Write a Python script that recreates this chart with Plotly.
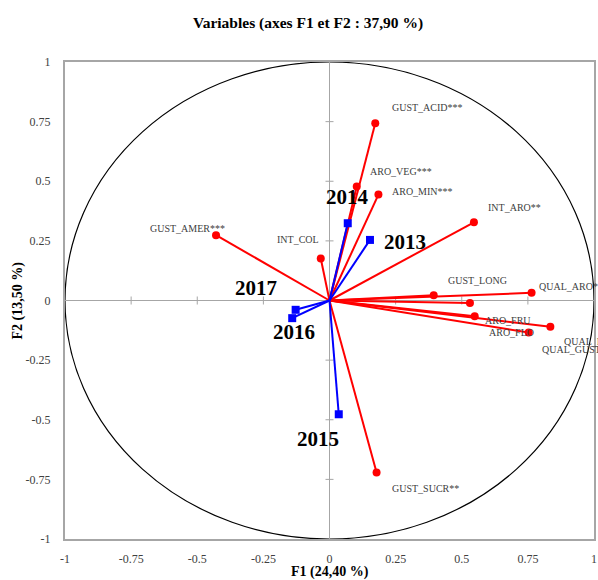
import plotly.graph_objects as go

# ---- data ----
var_names = ["GUST_ACID***", "ARO_VEG***", "ARO_MIN***", "INT_ARO**", "GUST_LONG",
             "QUAL_ARO*", "ARO_FRU", "ARO_FLO", "QUAL_FIN", "QUAL_GUST",
             "GUST_AMER***", "INT_COL", "GUST_SUCR**"]
var_f1 = [0.173, 0.103, 0.185, 0.546, 0.394, 0.764, 0.531, 0.549, 0.835, 0.753, -0.429, -0.033, 0.178]
var_f2 = [0.743, 0.478, 0.444, 0.328, 0.022, 0.032, -0.011, -0.066, -0.110, -0.134, 0.274, 0.176, -0.721]

years = ["2013", "2014", "2015", "2016", "2017"]
yr_f1 = [0.153, 0.069, 0.035, -0.141, -0.128]
yr_f2 = [0.254, 0.324, -0.477, -0.074, -0.039]

tick_vals = [-1, -0.75, -0.5, -0.25, 0, 0.25, 0.5, 0.75, 1]
tick_text = ["-1", "-0.75", "-0.5", "-0.25", "0", "0.25", "0.5", "0.75", "1"]

# ---- label placement (pixel offsets: anchor, xshift, yshift) ----
var_label_pos = [("left", 15, 16), ("left", 11, 15), ("left", 12, 3), ("left", 12, 15),
                 ("left", 12, 15), ("left", 5, 6), ("left", 13, -17), ("left", 12, -16),
                 ("left", 12, -15), ("left", 11, -17), ("right", 11, 7), ("right", 0, 19),
                 ("left", 13, -16)]
yr_label_pos = [("left", 12, -2), ("center", 0, 26), ("right", 2, -25),
                ("center", 2, -14), ("right", -17, 22)]

FONT = "Liberation Serif"
RED = "#ff0000"
BLUE = "#0000ff"
GREY = "#a6a6a6"

def vectors(xs, ys):
    lx, ly = [], []
    for a, b in zip(xs, ys):
        lx += [0, a, None]
        ly += [0, b, None]
    return lx, ly

fig = go.Figure()

rx, ry = vectors(var_f1, var_f2)
fig.add_trace(go.Scatter(x=rx, y=ry, mode="lines", line=dict(color=RED, width=2),
                         hoverinfo="skip", showlegend=False))
fig.add_trace(go.Scatter(x=var_f1, y=var_f2, mode="markers", text=var_names,
                         marker=dict(color=RED, size=8, symbol="circle"), showlegend=False))
bx, by = vectors(yr_f1, yr_f2)
fig.add_trace(go.Scatter(x=bx, y=by, mode="lines", line=dict(color=BLUE, width=2),
                         hoverinfo="skip", showlegend=False))
fig.add_trace(go.Scatter(x=yr_f1, y=yr_f2, mode="markers", text=years,
                         marker=dict(color=BLUE, size=8, symbol="square"), showlegend=False))

annotations = []
for name, a, b, (anc, dx, dy) in zip(var_names, var_f1, var_f2, var_label_pos):
    annotations.append(dict(x=a, y=b, xref="x", yref="y", text=name, showarrow=False,
                            xanchor=anc, yanchor="middle", xshift=dx, yshift=dy,
                            font=dict(family=FONT, size=10, color="#404040")))
for name, a, b, (anc, dx, dy) in zip(years, yr_f1, yr_f2, yr_label_pos):
    annotations.append(dict(x=a, y=b, xref="x", yref="y", text="<b>%s</b>" % name, showarrow=False,
                            xanchor=anc, yanchor="middle", xshift=dx, yshift=dy,
                            font=dict(family=FONT, size=21, color="#000000")))
# axis titles
annotations.append(dict(x=0.5, y=0, xref="paper", yref="paper", text="<b>F1 (24,40 %)</b>",
                        showarrow=False, xanchor="center", yanchor="middle", yshift=-33,
                        font=dict(family=FONT, size=14, color="#000000")))
annotations.append(dict(x=0, y=0.5, xref="paper", yref="paper", text="<b>F2 (13,50 %)</b>",
                        showarrow=False, xanchor="center", yanchor="middle", xshift=-48,
                        textangle=-90, font=dict(family=FONT, size=14, color="#000000")))

shapes = [dict(type="circle", xref="x", yref="y", x0=-1, y0=-1, x1=1, y1=1,
               line=dict(color="#000000", width=1.2), layer="below")]
for v in tick_vals:
    if v in (-1, 0, 1):
        continue
    shapes.append(dict(type="line", xref="x", yref="y", x0=v, x1=v, ysizemode="pixel",
                       yanchor=0, y0=-4, y1=4, line=dict(color=GREY, width=1), layer="below"))
    shapes.append(dict(type="line", xref="x", yref="y", y0=v, y1=v, xsizemode="pixel",
                       xanchor=0, x0=-4, x1=4, line=dict(color=GREY, width=1), layer="below"))

axis_common = dict(range=[-1, 1], tickmode="array", tickvals=tick_vals, ticktext=tick_text,
                   showgrid=False, zeroline=True, zerolinecolor=GREY, zerolinewidth=1.2,
                   showline=True, mirror=True, linecolor=GREY, linewidth=2, ticks="",
                   tickfont=dict(family=FONT, size=12, color="#404040"), fixedrange=True,
                   automargin=False)

W, H = 598, 580
fig.update_layout(
    width=W, height=H,
    margin=dict(l=65, r=4, t=62, b=41),
    paper_bgcolor="white", plot_bgcolor="white",
    title=dict(text="<b>Variables (axes F1 et F2 : 37,90 %)</b>", x=308 / W, xanchor="center",
               y=1 - 23 / H, yanchor="middle", font=dict(family=FONT, size=15.5, color="#000000")),
    xaxis=dict(**axis_common, ticklabelstandoff=8),
    yaxis=dict(**axis_common, ticklabelstandoff=10),
    annotations=annotations, shapes=shapes, showlegend=False,
)

fig.write_html("out.html", config={"displayModeBar": False},
               post_script="document.body.style.margin='0';document.body.style.overflow='hidden';")
